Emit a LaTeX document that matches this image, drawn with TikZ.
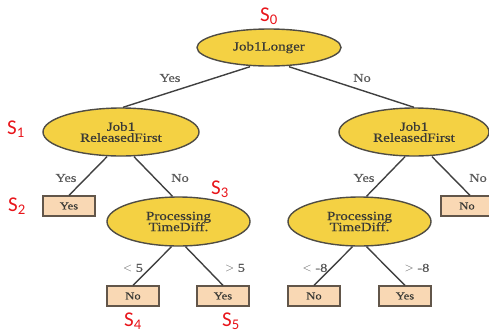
\documentclass[tikz,border=0pt]{standalone}
\usepackage{fontspec}
\usetikzlibrary{shapes.geometric}
\newfontfamily\treefont[FakeStretch=1.2,FakeBold=0.6]{Liberation Serif}
\newfontfamily\tagfont{Carlito}
\definecolor{testfill}{HTML}{F4D143}
\definecolor{testline}{HTML}{4F4C44}
\definecolor{leaffill}{HTML}{F9D8B4}
\definecolor{leafline}{HTML}{62564A}
\definecolor{inkgray}{HTML}{3A3A36}
\definecolor{edgegray}{HTML}{404040}
\definecolor{tagred}{HTML}{E8151B}
\begin{document}
\begin{tikzpicture}[x=1pt,y=-1pt,
  test/.style={ellipse,draw=testline,fill=testfill,line width=1.4pt,inner sep=0pt,
    align=center,text=inkgray,font=\treefont\fontsize{12.5}{13}\selectfont},
  leaf/.style={rectangle,draw=leafline,fill=leaffill,line width=1.3pt,inner sep=0pt,
    minimum width=52pt,minimum height=20pt,text=inkgray,font=\treefont\fontsize{10.5}{12}\selectfont},
  branch/.style={draw=edgegray,line width=1.4pt},
  cond/.style={text=gray!70!black,inner sep=0pt,font=\treefont\fontsize{12}{13}\selectfont},
  tag/.style={text=tagred,inner sep=0pt,font=\tagfont\fontsize{21}{21}\selectfont}]
\useasboundingbox (0,0) rectangle (489,333);

% decision nodes
\node[test,minimum width=144pt,minimum height=37pt] (root) at (269,47.5) {Job1Longer};
\node[test,minimum width=156pt,minimum height=48pt] (relL) at (121,132) {Job1\\[-2pt]ReleasedFirst};
\node[test,minimum width=150pt,minimum height=48pt] (relR) at (414,132) {Job1\\[-2pt]ReleasedFirst};
\node[test,minimum width=143pt,minimum height=49pt] (procL) at (178.5,221.5) {Processing\\[-2pt]TimeDiff.};
\node[test,minimum width=143pt,minimum height=49pt] (procR) at (359.5,221.5) {Processing\\[-2pt]TimeDiff.};

% leaves
\node[leaf] (yesA) at (69,206) {Yes};
\node[leaf] (noR)  at (467,206) {No};
\node[leaf] (noB)  at (133,296) {No};
\node[leaf] (yesB) at (223,296) {Yes};
\node[leaf] (noC)  at (314,296) {No};
\node[leaf] (yesC) at (405,296) {Yes};

% branches
\draw[branch] ([xshift=-19pt]root.south) -- ([xshift=2pt]relL.north);
\draw[branch] ([xshift=20pt]root.south) -- (relR.north);
\draw[branch] ([xshift=-14pt]relL.south) -- (yesA.north);
\draw[branch] ([xshift=13pt]relL.south) -- ([xshift=-6pt]procL.north);
\draw[branch] ([xshift=-9pt]relR.south) -- ([xshift=7pt]procR.north);
\draw[branch] ([xshift=18pt]relR.south) -- ([xshift=3pt]noR.north);
\draw[branch] ([xshift=-7pt]procL.south) -- (noB.north);
\draw[branch] ([xshift=7pt]procL.south) -- (yesB.north);
\draw[branch] ([xshift=-7pt]procR.south) -- (noC.north);
\draw[branch] ([xshift=7pt]procR.south) -- (yesC.north);

% branch conditions
\node[cond] (c1) at (170,78) {Yes};
\node[cond] (c2) at (362,78) {No};
\node[cond] (c3) at (66,178) {Yes};
\node[cond] (c4) at (180,178) {No};
\node[cond] (c5) at (364,178) {Yes};
\node[cond] (c6) at (478,178) {No};
\node[cond] (c7) at (133,268) {$<$ 5};
\node[cond] (c8) at (235,268) {$>$ 5};
\node[cond] (c9) at (315,268) {$<$ -8};
\node[cond] (c10) at (417,268) {$>$ -8};

% state tags
\node[tag] (s0) at (269,16) {S\textsubscript{0}};
\node[tag] (s1) at (16,129) {S\textsubscript{1}};
\node[tag] (s2) at (17,206) {S\textsubscript{2}};
\node[tag] (s3) at (220,189) {S\textsubscript{3}};
\node[tag] (s4) at (133,321) {S\textsubscript{4}};
\node[tag] (s5) at (231,321) {S\textsubscript{5}};
\end{tikzpicture}
\end{document}
